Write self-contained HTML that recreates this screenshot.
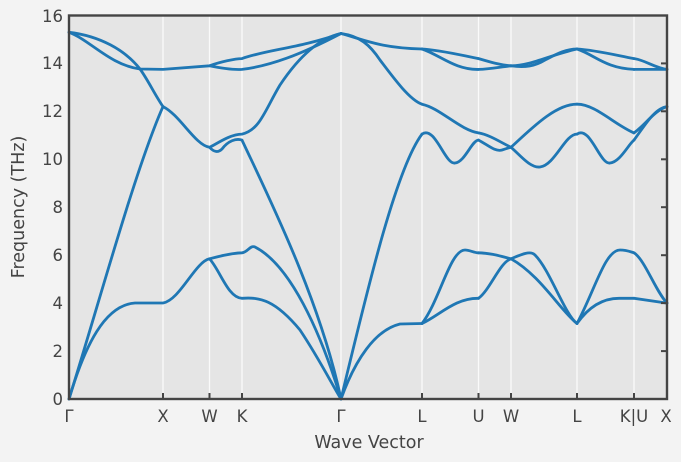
<!DOCTYPE html>
<html><head><meta charset="utf-8"><style>
html,body{margin:0;padding:0;background:#f3f3f3;}
svg{display:block;font-family:"DejaVu Sans","Liberation Sans",sans-serif;}
</style></head><body>
<svg width="681" height="462" viewBox="0 0 681 462" xmlns="http://www.w3.org/2000/svg">
<rect x="0" y="0" width="681" height="462" fill="#f3f3f3"/>
<rect x="69" y="15.5" width="598" height="383.5" fill="#e5e5e5"/>
<g stroke="#fafafa" stroke-width="1.3">
<line x1="163" y1="16" x2="163" y2="399"/><line x1="209.5" y1="16" x2="209.5" y2="399"/>
<line x1="242" y1="16" x2="242" y2="399"/><line x1="341" y1="16" x2="341" y2="399"/>
<line x1="422" y1="16" x2="422" y2="399"/><line x1="478.5" y1="16" x2="478.5" y2="399"/>
<line x1="511" y1="16" x2="511" y2="399"/><line x1="577" y1="16" x2="577" y2="399"/>
<line x1="634" y1="16" x2="634" y2="399"/>
</g>
<g fill="none" stroke="#1f77b4" stroke-width="2.8" stroke-linecap="round" stroke-linejoin="round">
<path d="M69,399 C85,345 105,305 135,303 L163,303 C180,300 195,262 209.5,258.8 C220,256 232,253 242,252.8 C248,252 250,245 255,247 C290,265 320,330 341,399"/>
<path d="M209.5,258.8 C220,270 228,298 242,298.3 C260,297 275,300 300,330 C320,360 335,390 341,399"/>
<path d="M69,399 C100,300 135,170 163,106.6 C180,115 195,145 209.5,147.3 C215,145 230,134 242,134.1 C260,130 265,110 280,85 C300,55 320,38 341,33.5"/>
<path d="M209.5,147.3 C214,152 218,153 222,149 C228,141 236,138 242,140.1 C270,200 320,300 341,399"/>
<path d="M69,32.3 C100,36 125,50 140,69 C148,80 155,95 163,106.6"/>
<path d="M69,32.3 C90,40 110,65 140,69 L163,69.4 L209.5,65.8 C220,62 235,58.6 242,58.6 C265,50 300,48 341,33.5"/>
<path d="M209.5,65.8 C220,68 232,70 242,69.4 C270,66 300,55 341,33.5"/>
<path d="M341,399 C355,360 375,330 400,324 L422,323.5"/>
<path d="M341,399 C365,300 395,170 422,134.1"/>
<path d="M341,33.5 C360,36 370,45 380,60 C395,80 410,100 422,104.2"/>
<path d="M341,33.5 C365,40 380,48 422,49"/>
<path d="M422,323.5 C440,315 455,298 478.5,298.3"/>
<path d="M422,323.5 C440,300 450,250 465,250 C470,250 474,253 478.5,252.8"/>
<path d="M422,134.1 C435,125 445,165 455,163 C465,162 472,140 478.5,140.1"/>
<path d="M422,104.2 C440,108 460,130 478.5,132.9"/>
<path d="M422,49 C440,50 460,55 478.5,58.6"/>
<path d="M422,49 C440,55 455,70 478.5,69.4"/>
<path d="M478.5,298.3 C490,290 500,262 511,258.8"/>
<path d="M478.5,252.8 C490,253 500,256 511,258.8"/>
<path d="M478.5,140.1 C488,145 495,152 502,150 C505,149 508,148 511,147.3"/>
<path d="M478.5,132.9 C490,135 500,142 511,147.3"/>
<path d="M478.5,58.6 C490,62 500,65 511,65.8"/>
<path d="M478.5,69.4 C490,69 500,67 511,65.8"/>
<path d="M511,258.8 C520,255 530,250 535,255 C550,270 565,315 577,323.5"/>
<path d="M511,258.8 C540,275 560,310 577,323.5"/>
<path d="M511,147.3 C520,155 530,168 540,167 C555,165 565,134 577,134.1"/>
<path d="M511,147.3 C530,130 555,104 577,104.2"/>
<path d="M511,65.8 C530,66 550,55 577,49"/>
<path d="M511,65.8 C525,68 535,66 545,60 C555,55 565,49 577,49"/>
<path d="M577,323.5 C590,305 605,298 620,298.3 L634,298.3"/>
<path d="M577,323.5 C595,290 605,250 620,250 C627,250 631,252 634,252.8"/>
<path d="M577,134.1 C590,125 600,165 610,163 C620,162 628,145 634,140.1"/>
<path d="M577,104.2 C595,104 615,125 634,132.9"/>
<path d="M577,49 C595,50 615,55 634,58.6"/>
<path d="M577,49 C595,55 605,68 634,69.4"/>
<path d="M634,252.8 C645,260 655,290 667,303.1"/>
<path d="M634,298.3 L667,303.1"/>
<path d="M634,140.1 C645,125 655,108 667,106.6"/>
<path d="M634,132.9 C645,125 655,110 667,106.6"/>
<path d="M634,58.6 C645,60 655,68 667,69.4"/>
<path d="M634,69.4 L667,69.4"/>
</g>
<rect x="69" y="15.5" width="598" height="383.5" fill="none" stroke="#444" stroke-width="2.4"/>
<g stroke="#444" stroke-width="2">
<line x1="667" y1="351.1" x2="661" y2="351.1"/><line x1="667" y1="303.1" x2="661" y2="303.1"/>
<line x1="667" y1="255.2" x2="661" y2="255.2"/><line x1="667" y1="207.2" x2="661" y2="207.2"/>
<line x1="667" y1="159.3" x2="661" y2="159.3"/><line x1="667" y1="111.3" x2="661" y2="111.3"/>
<line x1="667" y1="63.4" x2="661" y2="63.4"/>
<line x1="163" y1="399" x2="163" y2="393"/><line x1="209.5" y1="399" x2="209.5" y2="393"/>
<line x1="242" y1="399" x2="242" y2="393"/><line x1="422" y1="399" x2="422" y2="393"/>
<line x1="478.5" y1="399" x2="478.5" y2="393"/><line x1="511" y1="399" x2="511" y2="393"/>
<line x1="577" y1="399" x2="577" y2="393"/><line x1="634" y1="399" x2="634" y2="393"/>
</g>
<g fill="#444" font-size="16.5" text-anchor="end">
<text x="63" y="405">0</text><text x="63" y="357">2</text><text x="63" y="309">4</text>
<text x="63" y="261">6</text><text x="63" y="213">8</text><text x="63" y="165">10</text>
<text x="63" y="117">12</text><text x="63" y="69">14</text><text x="63" y="22">16</text>
</g>
<g fill="#444" font-size="16.5" text-anchor="middle">
<text x="69" y="422">Γ</text><text x="163" y="422">X</text><text x="209.5" y="422">W</text>
<text x="242" y="422">K</text><text x="341" y="422">Γ</text><text x="422" y="422">L</text>
<text x="478.5" y="422">U</text><text x="511" y="422">W</text><text x="577" y="422">L</text>
<text x="634" y="422">K|U</text><text x="666" y="422">X</text>
</g>
<g fill="#444" font-size="17.5" text-anchor="middle">
<text x="369" y="448">Wave Vector</text>
<text transform="translate(24,207) rotate(-90)">Frequency (THz)</text>
</g>
</svg>
</body></html>
